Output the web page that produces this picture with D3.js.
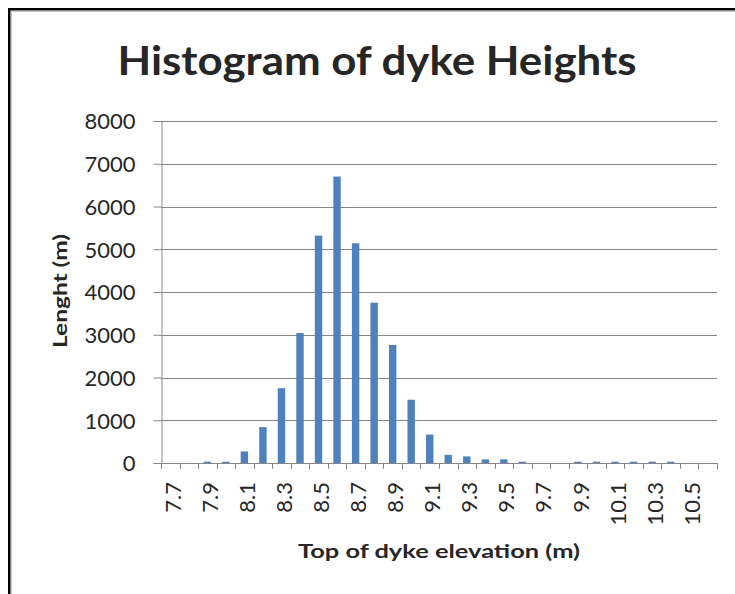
<!DOCTYPE html>
<html>
<head>
<meta charset="utf-8">
<script src="https://cdn.jsdelivr.net/npm/d3@7"></script>
<style>
  html, body { margin: 0; padding: 0; background: #ffffff; }
  svg { display: block; }
  text { font-family: Lato, "Open Sans", sans-serif; fill: #262626; }
</style>
</head>
<body>
<svg id="chart" width="735" height="594"></svg>
<script>
// Elevation classes (m), one per bar
const categories = ["7.7","7.8","7.9","8.0","8.1","8.2","8.3","8.4","8.5","8.6",
                    "8.7","8.8","8.9","9.0","9.1","9.2","9.3","9.4","9.5","9.6",
                    "9.7","9.8","9.9","10.0","10.1","10.2","10.3","10.4","10.5","10.6"];
// Dyke length (m) falling in each elevation class
const lengths = [0, 0, 30, 30, 270, 840, 1750, 3040, 5320, 6700,
                 5140, 3750, 2760, 1480, 665, 190, 155, 85, 85, 30,
                 0, 0, 30, 30, 30, 30, 30, 30, 0, 0];
// Category labels printed under the axis (every second class)
const xTickLabels = ["7.7","7.9","8.1","8.3","8.5","8.7","8.9","9.1","9.3","9.5",
                     "9.7","9.9","10.1","10.3","10.5"];
// Value axis ticks
const yTicks = [0, 1000, 2000, 3000, 4000, 5000, 6000, 7000, 8000];

const titleText = "Histogram of dyke Heights";
const xTitle = "Top of dyke elevation (m)";
const yTitle = "Lenght (m)";

const svg = d3.select("#chart");
const plot = { left: 161, right: 717, top: 121, bottom: 463 };
const axisColor = "#868686";
const barColor = "#4f81bd";

// Frame around the chart area
svg.append("rect")
  .attr("x", 9.25).attr("y", 9.25).attr("width", 760).attr("height", 640)
  .attr("fill", "none").attr("stroke", "#000").attr("stroke-width", 2.5);
svg.append("path")
  .attr("d", "M11.5,600 V11.5 H735")
  .attr("fill", "none").attr("stroke", "#c8c8c8").attr("stroke-width", 1);

const x = d3.scaleBand()
  .domain(categories)
  .range([plot.left, plot.right])
  .paddingInner(0.6)
  .paddingOuter(0.3);

const y = d3.scaleLinear()
  .domain([0, 8000])
  .range([plot.bottom, plot.top]);

// Horizontal gridlines
svg.append("g")
  .selectAll("line")
  .data(yTicks.filter(d => d > 0))
  .join("line")
  .attr("x1", plot.left).attr("x2", plot.right)
  .attr("y1", d => Math.round(y(d)) + 0.5)
  .attr("y2", d => Math.round(y(d)) + 0.5)
  .attr("stroke", axisColor).attr("stroke-width", 1);

// Bars
svg.append("g")
  .selectAll("rect")
  .data(categories.map((c, i) => ({ c, v: lengths[i] })))
  .join("rect")
  .attr("x", d => x(d.c))
  .attr("width", x.bandwidth())
  .attr("y", d => y(d.v))
  .attr("height", d => y(0) - y(d.v))
  .attr("fill", barColor);

// Value axis
const yAxis = d3.axisLeft(y)
  .tickValues(yTicks)
  .tickSize(8)
  .tickPadding(18)
  .tickFormat(d3.format("d"));
const gy = svg.append("g")
  .attr("transform", `translate(${plot.left + 0.5},0)`)
  .call(yAxis);
gy.select(".domain").attr("stroke", axisColor);
gy.selectAll(".tick line").attr("stroke", axisColor);
gy.selectAll(".tick text")
  .style("font-family", "Lato, sans-serif")
  .style("font-size", "22px")
  .attr("fill", "#262626")
  .attr("dy", "0.36em");

// Category axis: line, boundary tick marks, rotated labels
const step = x.step();
const boundaries = categories.map(c => x(c) - step * x.paddingInner() / 2)
  .concat([x(categories[categories.length - 1]) + x.bandwidth() + step * x.paddingInner() / 2]);
const gx = svg.append("g");
gx.append("line")
  .attr("x1", plot.left).attr("x2", plot.right)
  .attr("y1", plot.bottom + 0.5).attr("y2", plot.bottom + 0.5)
  .attr("stroke", axisColor);
gx.selectAll("line.tk")
  .data(boundaries)
  .join("line")
  .attr("class", "tk")
  .attr("x1", d => Math.round(d) + 0.5).attr("x2", d => Math.round(d) + 0.5)
  .attr("y1", plot.bottom).attr("y2", plot.bottom + 6)
  .attr("stroke", axisColor);
gx.selectAll("text")
  .data(xTickLabels)
  .join("text")
  .attr("transform", d => `translate(${x(d) + x.bandwidth() / 2 + 2},${plot.bottom + 19}) rotate(-90)`)
  .attr("text-anchor", "end")
  .attr("dominant-baseline", "central")
  .style("font-size", "22px")
  .text(d => d);

// Titles
svg.append("text")
  .attr("x", 377).attr("y", 75)
  .attr("text-anchor", "middle")
  .style("font-size", "41px").style("font-weight", "bold")
  .attr("fill", "#000")
  .attr("textLength", 519).attr("lengthAdjust", "spacingAndGlyphs")
  .text(titleText);

svg.append("text")
  .attr("x", (plot.left + plot.right) / 2).attr("y", 558)
  .attr("text-anchor", "middle")
  .style("font-size", "19px").style("font-weight", "bold")
  .attr("fill", "#000")
  .attr("textLength", 282).attr("lengthAdjust", "spacingAndGlyphs")
  .text(xTitle);

svg.append("text")
  .attr("transform", "translate(67,291) rotate(-90)")
  .attr("text-anchor", "middle")
  .style("font-size", "18px").style("font-weight", "bold")
  .attr("fill", "#000")
  .attr("textLength", 114).attr("lengthAdjust", "spacingAndGlyphs")
  .text(yTitle);
</script>
</body>
</html>
